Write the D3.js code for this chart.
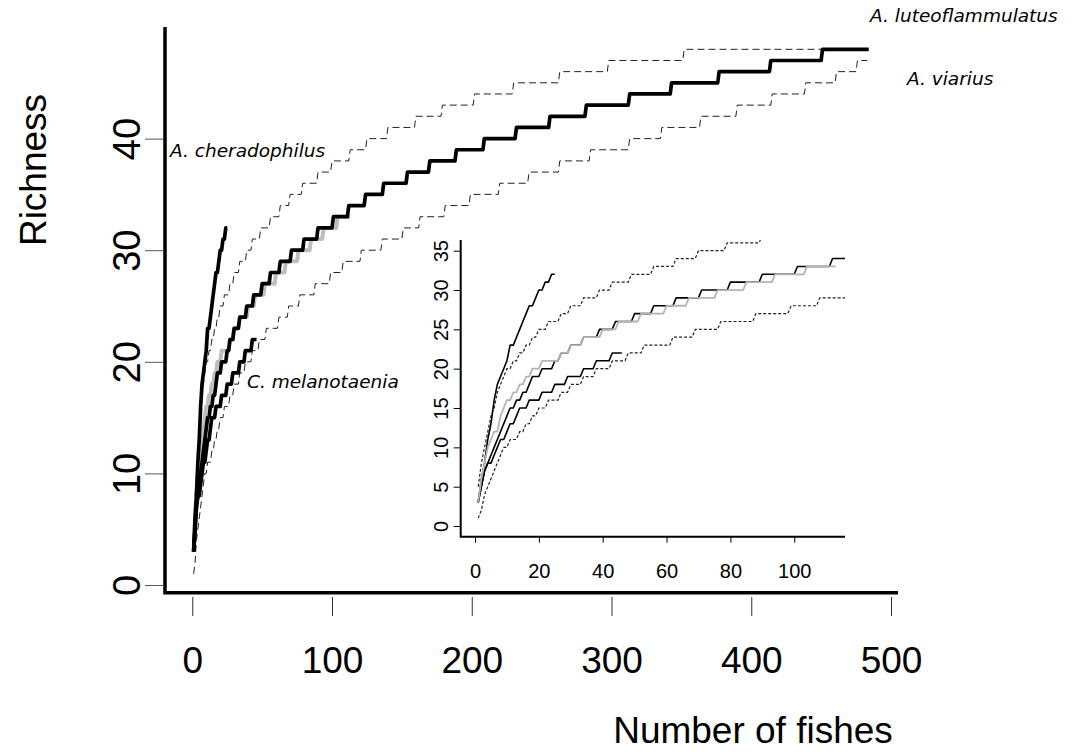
<!DOCTYPE html>
<html>
<head>
<meta charset="utf-8">
<script src="https://cdn.jsdelivr.net/npm/d3@7"></script>
<style>
  body { margin: 0; background: #fff; }
  svg { display: block; }
</style>
</head>
<body>
<div id="chart"></div>
<script>
// rarefaction curves: [number of fishes, richness] at each step up; last pair marks where the curve ends
const cheradophilus = [[1,3],[2,6],[3,8],[4,11],[5,13],[6,16],[7,18],[8,19],[9,20],[10,21],[11,23],[13,24],[14,25],[15,26],[16,27],[17,28],[19,29],[20,30],[22,31],[24,32],[25,32]]
const luteoflammulatus = [[1,3],[2,5],[3,7],[4,8],[5,9],[6,10],[7,11],[8,12],[9,13],[10,14],[11,15],[13,16],[15,17],[17,18],[18,19],[21,20],[25,21],[27,22],[30,23],[34,24],[39,25],[44,26],[50,27],[56,28],[63,29],[71,30],[80,31],[90,32],[101,33],[112,34],[124,35],[137,36],[154,37],[170,38],[189,39],[209,40],[232,41],[256,42],[282,43],[313,44],[343,45],[377,46],[414,47],[451,48],[484,48]]
const viarius = [[1,3],[2,6],[3,8],[4,10],[5,11],[6,12],[8,14],[9,15],[10,16],[12,17],[14,18],[16,19],[18,20],[21,21],[27,22],[30,23],[34,24],[40,25],[45,26],[52,27],[60,28],[67,29],[76,30],[85,31],[94,32],[104,33],[113,33]]
const melanotaenia = [[1,3],[2,5],[3,7],[4,8],[6,9],[7,10],[8,11],[10,12],[11,13],[13,14],[14,15],[17,16],[21,17],[25,18],[29,19],[34,20],[38,21],[43,22],[46,22]]
const upperCI = [[1,5],[2,8],[3,10],[4,12],[5,14],[6,15],[7,17],[8,18],[9,19],[10,20],[12,21],[14,22],[16,23],[18,24],[20,25],[23,26],[27,27],[30,28],[34,29],[39,30],[43,31],[49,32],[56,33],[63,34],[70,35],[79,36],[90,37],[100,38],[113,39],[125,40],[140,41],[160,42],[179,43],[202,44],[230,45],[263,46],[298,47],[352,48],[484,48]]
const lowerCI = [[1,1],[2,2],[3,4],[4,5],[5,6],[6,7],[7,8],[8,9],[9,10],[11,11],[14,12],[16,13],[18,14],[20,15],[23,16],[27,17],[30,18],[34,19],[38,20],[43,21],[48,22],[53,23],[62,24],[69,25],[77,26],[88,27],[99,28],[108,29],[121,30],[136,31],[151,32],[163,33],[181,34],[199,35],[220,36],[241,37],[263,38],[285,39],[313,40],[336,41],[364,42],[390,43],[415,44],[439,45],[461,46],[476,47],[483,47]]

const xTicks = [0, 100, 200, 300, 400, 500]
const yTicks = [0, 10, 20, 30, 40]
const insetXTicks = [0, 20, 40, 60, 80, 100]
const insetYTicks = [0, 5, 10, 15, 20, 25, 30, 35]

const speciesLabels = [
    { text: "A. cheradophilus", x: 170, y: 157 },
    { text: "C. melanotaenia", x: 247, y: 388 },
    { text: "A. luteoflammulatus", x: 870, y: 22 },
    { text: "A. viarius", x: 907, y: 85 }
]

// flat until one fish before the next step, then climb
function steps(data) {
    const pts = []
    data.forEach((d, i) => {
        pts.push(d)
        const next = data[i + 1]
        if (next && next[1] !== d[1] && next[0] - 1 > d[0]) pts.push([next[0] - 1, d[1]])
    })
    return pts
}

const width = 1072, height = 752
const font = "'Liberation Sans', Arial, sans-serif"

const svg = d3.select("#chart").append("svg")
    .attr("width", width)
    .attr("height", height)
    .attr("viewBox", [0, 0, width, height])

// ---------- main plot ----------
const x = d3.scaleLinear([-19.5, 505], [165, 898])
const y = d3.scaleLinear([-0.69, 50], [592.7, 27])
const line = d3.line().x(d => x(d[0])).y(d => y(d[1]))

svg.append("defs").append("clipPath").attr("id", "mainClip")
    .append("rect").attr("x", 165).attr("y", 27).attr("width", 733).attr("height", 566)

const main = svg.append("g").attr("clip-path", "url(#mainClip)")

main.selectAll(".ci")
    .data([upperCI, lowerCI])
    .join("path")
    .attr("fill", "none")
    .attr("stroke", "#222")
    .attr("stroke-width", 1)
    .attr("stroke-dasharray", "7,4")
    .attr("d", d => line(steps(d)))

main.append("path")
    .attr("fill", "none")
    .attr("stroke", "#bebebe")
    .attr("stroke-width", 4)
    .attr("stroke-linejoin", "round")
    .attr("d", line(steps(viarius)))

main.selectAll(".sp")
    .data([luteoflammulatus, melanotaenia, cheradophilus])
    .join("path")
    .attr("fill", "none")
    .attr("stroke", "#000")
    .attr("stroke-width", 3.7)
    .attr("stroke-linejoin", "round")
    .attr("d", d => line(steps(d)))

// L-shaped frame
svg.append("path")
    .attr("d", `M${x.range()[0]},${y.range()[1]}V${y.range()[0]}H${x.range()[1]}`)
    .attr("fill", "none")
    .attr("stroke", "#000")
    .attr("stroke-width", 3.5)

const xAxis = svg.append("g")
    .attr("transform", "translate(0,597)")
    .call(d3.axisBottom(x).tickValues(xTicks).tickSize(19).tickSizeOuter(0))
xAxis.select(".domain").remove()
xAxis.selectAll(".tick line").attr("stroke", "#333")
xAxis.selectAll(".tick text")
    .attr("y", 76).attr("dy", 0)
    .attr("fill", "#000")
    .style("font", `37px ${font}`)

const yAxis = svg.append("g")
    .attr("transform", "translate(163,0)")
    .call(d3.axisLeft(y).tickValues(yTicks).tickSize(18).tickSizeOuter(0))
yAxis.select(".domain").remove()
yAxis.selectAll(".tick line").attr("stroke", "#555")
yAxis.selectAll(".tick text")
    .attr("x", 0).attr("y", 0).attr("dy", 0)
    .attr("transform", "translate(-23,0) rotate(-90)")
    .attr("text-anchor", "middle")
    .attr("fill", "#000")
    .style("font", `38px ${font}`)

svg.append("text")
    .attr("x", 753).attr("y", 743)
    .attr("text-anchor", "middle")
    .style("font", `37px ${font}`)
    .text("Number of fishes")

svg.append("text")
    .attr("transform", "translate(46,170) rotate(-90)")
    .attr("text-anchor", "middle")
    .style("font", `37px ${font}`)
    .text("Richness")

svg.append("g")
    .selectAll("text")
    .data(speciesLabels)
    .join("text")
    .attr("x", d => d.x)
    .attr("y", d => d.y)
    .style("font", "italic 18.5px 'DejaVu Sans', Verdana, sans-serif")
    .text(d => d.text)

// ---------- inset ----------
const ix = d3.scaleLinear([-4.48, 115.9], [460.7, 845])
const iy = d3.scaleLinear([-1.36, 36.36], [536.7, 240])
const iline = d3.line().x(d => ix(d[0])).y(d => iy(d[1]))

svg.select("defs").append("clipPath").attr("id", "insetClip")
    .append("rect").attr("x", 460.7).attr("y", 240).attr("width", 384.3).attr("height", 296.7)

const inset = svg.append("g").attr("clip-path", "url(#insetClip)")

inset.selectAll(".ci")
    .data([upperCI, lowerCI])
    .join("path")
    .attr("fill", "none")
    .attr("stroke", "#222")
    .attr("stroke-width", 1.2)
    .attr("stroke-dasharray", "3,2")
    .attr("d", d => iline(steps(d)))

inset.selectAll(".sp")
    .data([luteoflammulatus, melanotaenia, cheradophilus])
    .join("path")
    .attr("fill", "none")
    .attr("stroke", "#000")
    .attr("stroke-width", 1.6)
    .attr("stroke-linejoin", "round")
    .attr("d", d => iline(steps(d)))

inset.append("path")
    .attr("fill", "none")
    .attr("stroke", "#b4b4b4")
    .attr("stroke-width", 1.8)
    .attr("stroke-linejoin", "round")
    .attr("d", iline(steps(viarius)))

svg.append("path")
    .attr("d", `M${ix.range()[0]},${iy.range()[1]}V${iy.range()[0]}H${ix.range()[1]}`)
    .attr("fill", "none")
    .attr("stroke", "#000")
    .attr("stroke-width", 2)

const ixAxis = svg.append("g")
    .attr("transform", `translate(0,${iy.range()[0]})`)
    .call(d3.axisBottom(ix).tickValues(insetXTicks).tickSize(6).tickSizeOuter(0))
ixAxis.select(".domain").remove()
ixAxis.selectAll(".tick line").attr("stroke", "#000")
ixAxis.selectAll(".tick text")
    .attr("y", 41).attr("dy", 0)
    .attr("fill", "#000")
    .style("font", `20px ${font}`)

const iyAxis = svg.append("g")
    .attr("transform", `translate(${ix.range()[0]},0)`)
    .call(d3.axisLeft(iy).tickValues(insetYTicks).tickSize(7).tickSizeOuter(0))
iyAxis.select(".domain").remove()
iyAxis.selectAll(".tick line").attr("stroke", "#000")
iyAxis.selectAll(".tick text")
    .attr("x", 0).attr("y", 0).attr("dy", 0)
    .attr("transform", "translate(-13,0) rotate(-90)")
    .attr("text-anchor", "middle")
    .attr("fill", "#000")
    .style("font", `20px ${font}`)
</script>
</body>
</html>
